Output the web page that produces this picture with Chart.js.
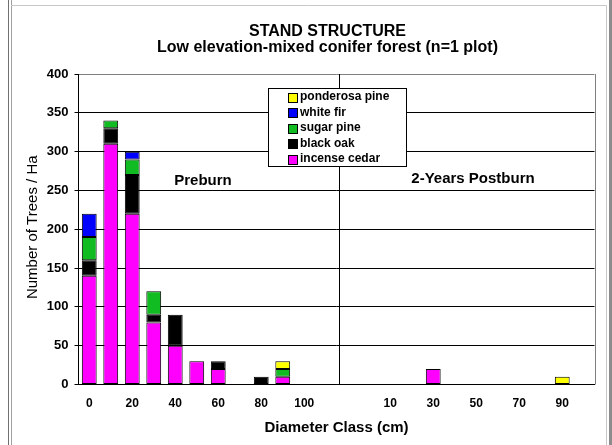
<!DOCTYPE html>
<html>
<head>
<meta charset="utf-8">
<script src="https://cdn.jsdelivr.net/npm/chart.js@4.4.0/dist/chart.umd.min.js"></script>
<style>
  body { margin: 0; background: #fff; }
  canvas { display: block; }
</style>
</head>
<body>
<canvas id="standChart" width="612" height="445"></canvas>
<script>
// diameter classes: preburn 0-100, two empty slots, postburn 0-100
const diameterClasses = ['0', '10', '20', '30', '40', '50', '60', '70', '80', '90', '100',
    '', '',
    '0', '10', '20', '30', '40', '50', '60', '70', '80', '90', '100'];

// trees / ha per class (stack order bottom -> top)
const incenseCedar  = [140, 310, 220, 80, 50, 30, 20, 0, 0, 10, 0,  0, 0,  0, 0, 0, 20, 0, 0, 0, 0, 0, 0, 0];
const blackOak      = [20, 20, 50, 10, 40, 0, 10, 0, 10, 0, 0,     0, 0,  0, 0, 0, 0, 0, 0, 0, 0, 0, 0, 0];
const sugarPine     = [30, 10, 20, 30, 0, 0, 0, 0, 0, 10, 0,       0, 0,  0, 0, 0, 0, 0, 0, 0, 0, 0, 0, 0];
const whiteFir      = [30, 0, 10, 0, 0, 0, 0, 0, 0, 0, 0,          0, 0,  0, 0, 0, 0, 0, 0, 0, 0, 0, 0, 0];
const ponderosaPine = [0, 0, 0, 0, 0, 0, 0, 0, 0, 10, 0,           0, 0,  0, 0, 0, 0, 0, 0, 0, 0, 0, 10, 0];

const yTicks = [0, 50, 100, 150, 200, 250, 300, 350, 400];

const FONT = "'Liberation Sans', Arial, sans-serif";

const makeSet = (label, values, color) => ({
    label: label,
    data: values.map(v => v || null),
    backgroundColor: color,
    borderColor: '#000',
    borderWidth: 1,
    borderSkipped: false,
    categoryPercentage: 1.0,
    barPercentage: 0.69
});

// frame, titles, panel labels, separator and legend
const decorations = {
    id: 'decorations',
    beforeDraw(chart) {
        const ctx = chart.ctx;
        ctx.save();
        ctx.fillStyle = '#fff';
        ctx.fillRect(0, 0, chart.width, chart.height);
        ctx.lineWidth = 1;
        ctx.strokeStyle = '#707070';
        ctx.beginPath(); ctx.moveTo(8.5, 0); ctx.lineTo(8.5, 445); ctx.stroke();
        ctx.strokeStyle = '#a0a0a0';
        ctx.beginPath(); ctx.moveTo(11.5, 0); ctx.lineTo(11.5, 445); ctx.stroke();
        ctx.strokeStyle = '#c8c8c8';
        ctx.beginPath(); ctx.moveTo(11, 5.5); ctx.lineTo(606.5, 5.5); ctx.lineTo(606.5, 445); ctx.stroke();
        ctx.fillStyle = '#8c8c8c';
        ctx.fillRect(609, 0, 3, 445);
        ctx.restore();
    },
    afterDraw(chart) {
        const ctx = chart.ctx;
        const area = chart.chartArea;
        const x = chart.scales.x;
        ctx.save();

        // plot area right border
        ctx.strokeStyle = '#808080';
        ctx.lineWidth = 1;
        ctx.beginPath();
        ctx.moveTo(Math.round(area.right) + 0.5, area.top);
        ctx.lineTo(Math.round(area.right) + 0.5, area.bottom);
        ctx.stroke();

        // separator between preburn and postburn
        const sepX = Math.round((x.getPixelForValue(11) + x.getPixelForValue(12)) / 2) + 2.5;
        ctx.strokeStyle = '#000';
        ctx.beginPath();
        ctx.moveTo(sepX, area.top);
        ctx.lineTo(sepX, area.bottom);
        ctx.stroke();

        ctx.fillStyle = '#000';
        ctx.textAlign = 'center';
        ctx.textBaseline = 'middle';

        ctx.font = 'bold 16px ' + FONT;
        ctx.fillText('STAND STRUCTURE', 327.5, 31.5);
        ctx.fillText('Low elevation-mixed conifer forest (n=1 plot)', 327.5, 47.5);

        ctx.font = 'bold 15px ' + FONT;
        ctx.fillText('Preburn', 203, 181);
        ctx.fillText('2-Years Postburn', 473, 179);

        ctx.fillText('Diameter Class (cm)', (area.left + area.right) / 2, 428);

        ctx.save();
        ctx.translate(33, (area.top + area.bottom) / 2 - 2);
        ctx.rotate(-Math.PI / 2);
        ctx.font = '15px ' + FONT;
        ctx.fillText('Number of Trees / Ha', 0, 0);
        ctx.restore();

        // legend, top series first
        const lx = 268.5, ly = 88.5, lw = 138, lh = 78;
        ctx.fillStyle = '#fff';
        ctx.fillRect(lx, ly, lw, lh);
        ctx.strokeStyle = '#000';
        ctx.strokeRect(lx, ly, lw, lh);
        ctx.font = 'bold 12px ' + FONT;
        ctx.textAlign = 'left';
        const sets = chart.data.datasets.slice().reverse();
        sets.forEach((ds, i) => {
            const cy = 97 + i * 15.5;
            ctx.fillStyle = ds.backgroundColor;
            ctx.fillRect(288.5, Math.round(cy - 4.5) + 0.5, 9, 9);
            ctx.strokeStyle = '#000';
            ctx.strokeRect(288.5, Math.round(cy - 4.5) + 0.5, 9, 9);
            ctx.fillStyle = '#000';
            ctx.fillText(ds.label, 300, cy);
        });
        ctx.restore();
    }
};

new Chart(document.getElementById('standChart'), {
    type: 'bar',
    data: {
        labels: diameterClasses,
        datasets: [
            makeSet('incense cedar', incenseCedar, '#ff00ff'),
            makeSet('black oak', blackOak, '#000000'),
            makeSet('sugar pine', sugarPine, '#11bb22'),
            makeSet('white fir', whiteFir, '#0000ff'),
            makeSet('ponderosa pine', ponderosaPine, '#ffff00')
        ]
    },
    options: {
        responsive: false,
        animation: false,
        layout: { padding: { left: 0, top: 74, right: 17.5, bottom: 0 } },
        plugins: {
            legend: { display: false },
            title: { display: false },
            tooltip: { enabled: false }
        },
        scales: {
            x: {
                stacked: true,
                afterFit: scale => { scale.height = 60.5; },
                grid: { display: false, drawTicks: false },
                border: { display: true, color: '#000', width: 1 },
                ticks: {
                    autoSkip: false,
                    maxRotation: 0,
                    padding: 12,
                    color: '#000',
                    font: { family: FONT, size: 12, weight: 'bold' },
                    callback: (val, i) => i % 2 === 0 ? diameterClasses[i] : ''
                }
            },
            y: {
                stacked: true,
                min: yTicks[0],
                max: yTicks[yTicks.length - 1],
                afterFit: scale => { scale.width = 78.5; },
                afterBuildTicks: scale => { scale.ticks = yTicks.map(v => ({ value: v })); },
                grid: {
                    color: c => c.tick && c.tick.value === 400 ? '#808080' : '#000',
                    tickColor: '#000',
                    tickLength: 4
                },
                border: { display: true, color: '#000', width: 1 },
                ticks: {
                    padding: 6,
                    color: '#000',
                    font: { family: FONT, size: 13, weight: 'bold' }
                }
            }
        }
    },
    plugins: [decorations]
});
</script>
</body>
</html>
